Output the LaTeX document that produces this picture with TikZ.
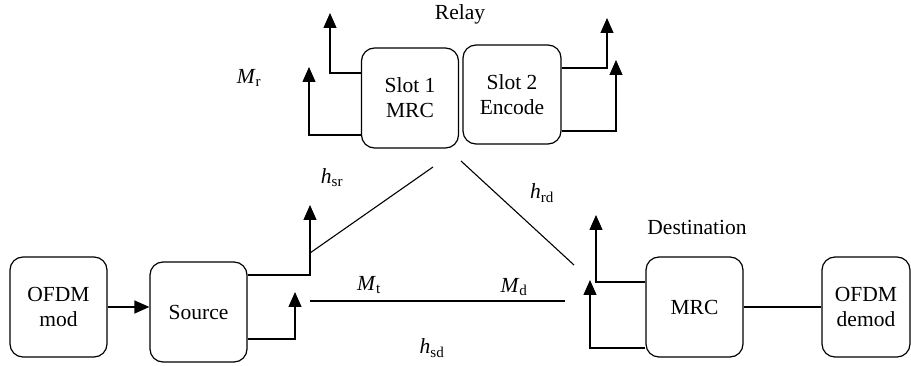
\documentclass[tikz,border=0pt]{standalone}
\usepackage{fontspec}
\setmainfont{Liberation Serif}
\usetikzlibrary{arrows.meta}

\newcommand{\sym}[2]{\textit{#1}\textsubscript{#2}}

\begin{document}
\begin{tikzpicture}[
        x=1pt, y=-1pt,
        font=\fontsize{21.5}{25}\selectfont,
        block/.style={draw,line width=1.2pt,rounded corners=13pt,minimum width=97pt,minimum height=100pt,align=center,inner sep=2pt},
        antenna/.style={draw,line width=1.2pt,-{Triangle[width=13pt,length=15pt]}},
        link/.style={draw,line width=1.1pt},
    ]
    \useasboundingbox (0,0) rectangle (911,366);

    % blocks
    \node[block] (mod) at (58.5, 307) {OFDM\\mod};
    \node[block] (src) at (198.5, 312) {Source};
    \node[block] (slot1) at (410, 98) {Slot 1\\MRC};
    \node[block,minimum width=98pt,minimum height=99pt] (slot2) at (512, 94.5) {Slot 2\\Encode};
    \node[block] (mrc) at (694.5, 307) {MRC};
    \node[block,minimum width=88pt] (demod) at (866, 307) {OFDM\\demod};

    % labels
    \node (relay) at (460, 14) {Relay};
    \node (dest) at (697, 227) {Destination};
    \node (mr) at (249, 78) {\sym{M}{r}};
    \node (hsr) at (332, 178) {\sym{h}{sr}};
    \node (hrd) at (542, 193) {\sym{h}{rd}};
    \node (mt) at (369, 285) {\sym{M}{t}};
    \node (md) at (514, 287) {\sym{M}{d}};
    \node (hsd) at (432, 348) {\sym{h}{sd}};

    % antenna tips
    \coordinate (srcA) at (310, 205);
    \coordinate (srcB) at (295, 292);
    \coordinate (relA) at (330, 13);
    \coordinate (relB) at (309, 67);
    \coordinate (relC) at (607, 18);
    \coordinate (relD) at (616, 60);
    \coordinate (dstA) at (596, 215);
    \coordinate (dstB) at (590, 280);

    \path[antenna] (src.east |- 0,275) -| (srcA);
    \path[antenna] (src.east |- 0,339) -| (srcB);
    \path[antenna] (slot1.west |- 0,73) -| (relA);
    \path[antenna] (slot1.west |- 0,135) -| (relB);
    \path[antenna] (slot2.east |- 0,68) -| (relC);
    \path[antenna] (slot2.east |- 0,131) -| (relD);
    \path[antenna] (mrc.west |- 0,282) -| (dstA);
    \path[antenna] (mrc.west |- 0,348) -| (dstB);

    % channels
    \coordinate (sr1) at (310, 253);
    \coordinate (sr2) at (433, 167);
    \coordinate (rd1) at (461, 161);
    \coordinate (rd2) at (574, 265);
    \coordinate (sd1) at (310, 301);
    \coordinate (sd2) at (565, 301);
    \path[link] (sr1) -- (sr2);
    \path[link] (rd1) -- (rd2);
    \path[link] (sd1) -- (sd2);

    \path[antenna] (mod) -- (mod -| src.west);
    \path[link] (mrc) -- (demod);
\end{tikzpicture}
\end{document}
